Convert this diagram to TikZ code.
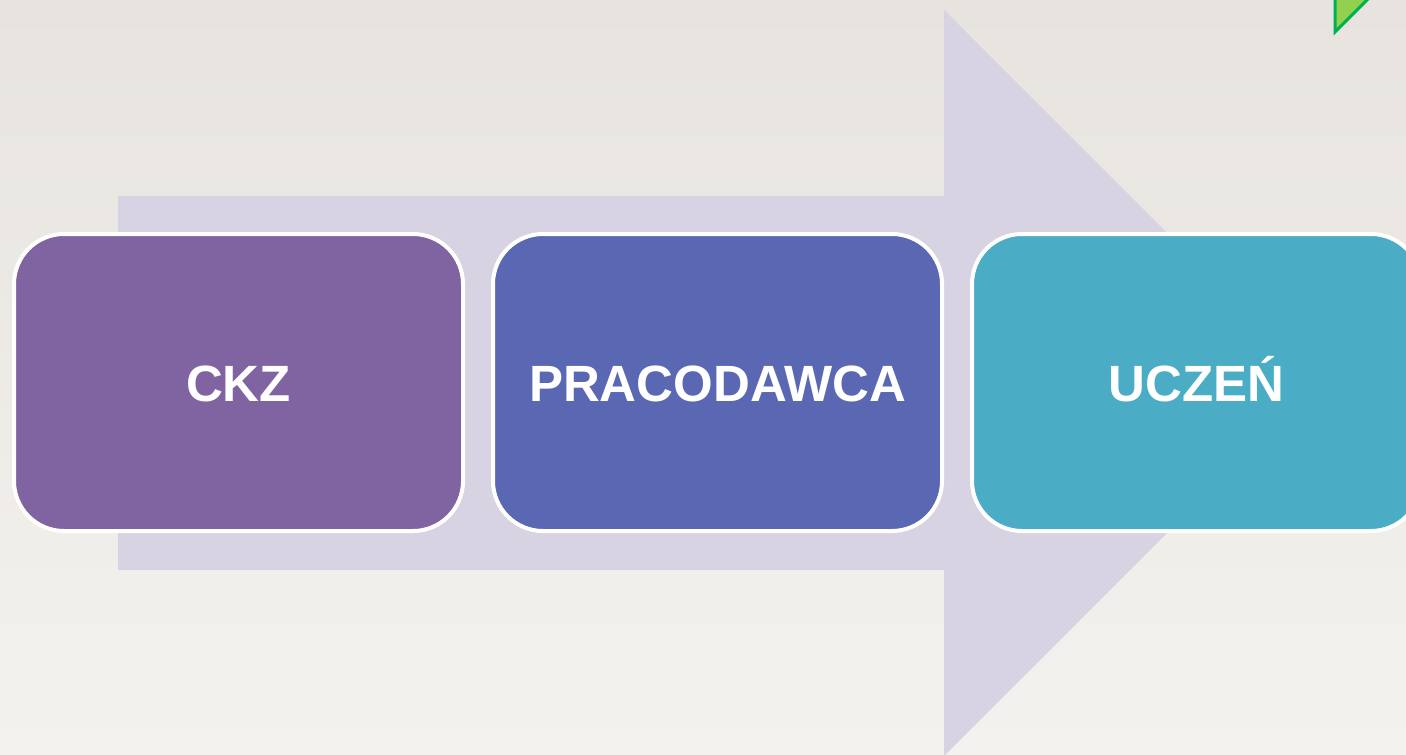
\documentclass[tikz,border=0pt]{standalone}
\usepackage{fontspec}
\setmainfont{Liberation Sans}
\definecolor{paperTop}{HTML}{E7E4DF}
\definecolor{paperBot}{HTML}{F4F2EE}
\definecolor{arrowFill}{HTML}{D7D3E3}
\definecolor{boxPurple}{HTML}{8064A2}
\definecolor{boxBlue}{HTML}{5A67B3}
\definecolor{boxTeal}{HTML}{4BACC6}
\definecolor{triFill}{HTML}{92D050}
\definecolor{triLine}{HTML}{00B050}
\tikzset{
  stagebox/.style={draw=white, line width=4pt, rounded corners=50pt,
    minimum width=449pt, minimum height=297pt, inner sep=0pt,
    text height=37pt, text depth=0pt,
    text=white, font=\bfseries\fontsize{51}{60}\selectfont},
}
\begin{document}
\begin{tikzpicture}[x=1pt,y=-1pt]
  \useasboundingbox (0,0) rectangle (1406,755);
  \shade[top color=paperTop, bottom color=paperBot] (0,0) rectangle (1406,755);
  % big background arrow
  \fill[arrowFill] (118,196) -- (944,196) -- (944,10) -- (1317,383) -- (944,756)
    -- (944,570) -- (118,570) -- cycle;
  % stage boxes
  \node[stagebox, fill=boxPurple] (ckz) at (238.5,382.5) {CKZ};
  \node[stagebox, fill=boxBlue] (prac) at (717.5,382.5) {PRACODAWCA};
  \node[stagebox, fill=boxTeal] (uczen) at (1196.5,382.5) {UCZEŃ};
  % green corner triangle
  \filldraw[fill=triFill, draw=triLine, line width=3pt, line join=miter]
    (1335,32) -- (1335,-10) -- (1377,-10) -- cycle;
\end{tikzpicture}
\end{document}
